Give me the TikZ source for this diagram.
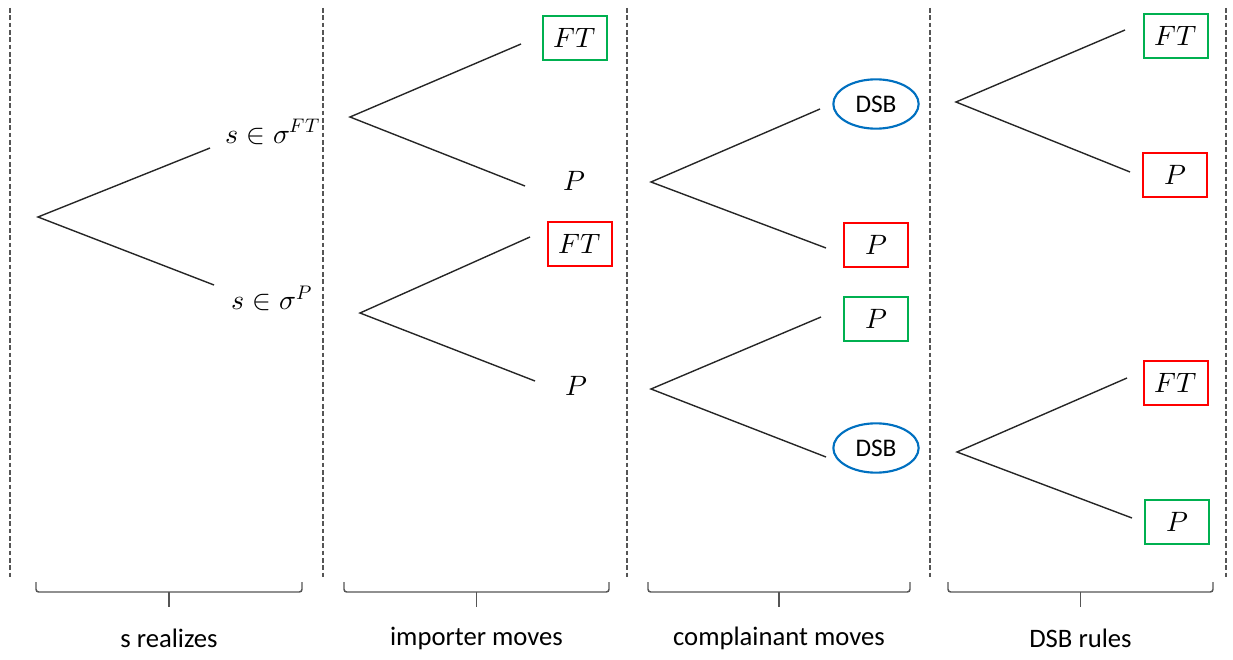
\documentclass[tikz,border=0pt]{standalone}
\usepackage{fontspec}
\usepackage{unicode-math}
\setmainfont{Carlito}
\usetikzlibrary{shapes.geometric}

\definecolor{ftgreen}{HTML}{00B050}
\definecolor{lossred}{HTML}{FF0000}
\definecolor{dsbblue}{HTML}{0070C0}
\definecolor{rulegray}{HTML}{555555}

\begin{document}
\begin{tikzpicture}[x=0.75pt,y=-0.75pt,
    mathlbl/.style={inner sep=1pt, font=\fontsize{21}{25}\selectfont},
    outcome/.style={mathlbl, draw, line width=1.3pt, minimum width=48pt, minimum height=33pt},
    dsb/.style={ellipse, draw=dsbblue, line width=1.6pt, minimum width=64pt, minimum height=37pt,
      inner sep=0pt, font=\fontsize{19}{22}\selectfont},
    branch/.style={draw=black!85, line width=1.05pt},
    divider/.style={draw=rulegray, line width=0.9pt, dash pattern=on 3.5pt off 2pt},
    bracket/.style={draw=rulegray, line width=1.1pt, rounded corners=2pt},
    caption/.style={font=\fontsize{20}{24}\selectfont}]

  \useasboundingbox (0,0) rectangle (1233,660);

  % stage dividers
  \foreach \x in {10,323,627,930,1226}
    \draw[divider] (\x,8) -- (\x,578);

  % outcomes
  \node[mathlbl] (s-ft) at (273,132) {$s\in\sigma^{FT}$};
  \node[mathlbl] (s-p)  at (272,298) {$s\in\sigma^{P}$};

  \node[outcome, draw=ftgreen] (imp-ft-top) at (575,38)  {$FT$};
  \node[mathlbl]               (imp-p-top)  at (574,181) {$P$};
  \node[outcome, draw=lossred] (imp-ft-bot) at (580,244) {$FT$};
  \node[mathlbl]               (imp-p-bot)  at (576,386) {$P$};

  \node[dsb]                   (com-dsb-top) at (876,104) {DSB};
  \node[outcome, draw=lossred] (com-p-top)   at (876,245) {$P$};
  \node[outcome, draw=ftgreen] (com-p-bot)   at (876,319) {$P$};
  \node[dsb]                   (com-dsb-bot) at (876,448) {DSB};

  \node[outcome, draw=ftgreen] (dsb-ft-top) at (1176,36)  {$FT$};
  \node[outcome, draw=lossred] (dsb-p-top)  at (1175,175) {$P$};
  \node[outcome, draw=lossred] (dsb-ft-bot) at (1176,383) {$FT$};
  \node[outcome, draw=ftgreen] (dsb-p-bot)  at (1177,522) {$P$};

  % branch roots and ends
  \coordinate (r1) at (38,217);   \coordinate (r1u) at (210,148);  \coordinate (r1d) at (214,285);
  \coordinate (r2a) at (350,117); \coordinate (r2au) at (521,44);  \coordinate (r2ad) at (525,186);
  \coordinate (r2b) at (360,313); \coordinate (r2bu) at (530,237); \coordinate (r2bd) at (535,381);
  \coordinate (r3a) at (651,182); \coordinate (r3au) at (820,109); \coordinate (r3ad) at (826,248);
  \coordinate (r3b) at (651,389); \coordinate (r3bu) at (821,317); \coordinate (r3bd) at (826,457);
  \coordinate (r4a) at (956,102); \coordinate (r4au) at (1125,30); \coordinate (r4ad) at (1130,172);
  \coordinate (r4b) at (957,452); \coordinate (r4bu) at (1127,378); \coordinate (r4bd) at (1132,518);

  \draw[branch] (r1u) -- (r1) -- (r1d);
  \draw[branch] (r2au) -- (r2a) -- (r2ad);
  \draw[branch] (r2bu) -- (r2b) -- (r2bd);
  \draw[branch] (r3au) -- (r3a) -- (r3ad);
  \draw[branch] (r3bu) -- (r3b) -- (r3bd);
  \draw[branch] (r4au) -- (r4a) -- (r4ad);
  \draw[branch] (r4bu) -- (r4b) -- (r4bd);

  % stage brackets and captions
  \foreach \l/\r/\txt [count=\i] in {36/302/s realizes, 344/609/importer moves,
      648/910/complainant moves, 948/1213/DSB rules} {
    \pgfmathsetmacro{\m}{(\l+\r)/2}
    \draw[bracket] (\l,582) -- (\l,592) -- (\r,592) -- (\r,582);
    \draw[bracket] (\m,592) -- (\m,607);
    \node[caption] (stage-\i) at (\m,638) {\txt};
  }

\end{tikzpicture}
\end{document}
